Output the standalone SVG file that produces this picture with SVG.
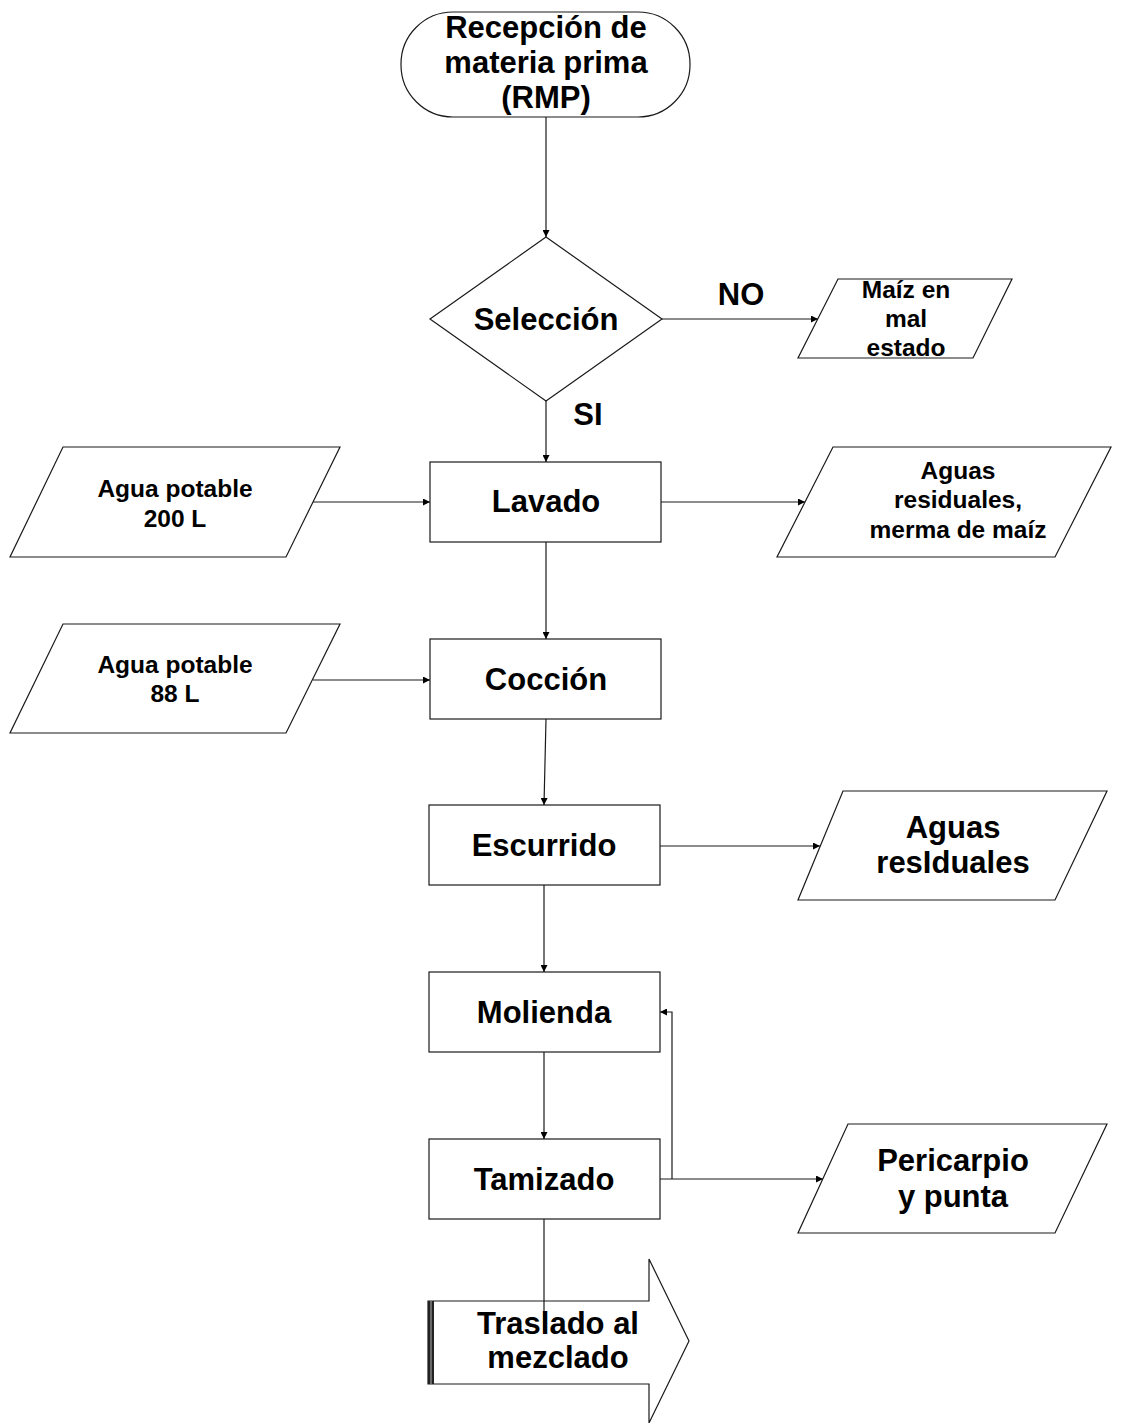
<svg xmlns="http://www.w3.org/2000/svg" width="1139" height="1423" viewBox="0 0 1139 1423">
  <defs>
    <marker id="ah" viewBox="0 0 10 10" refX="10" refY="5" markerWidth="10" markerHeight="7" markerUnits="userSpaceOnUse" orient="auto">
      <path d="M0,0 L10,5 L0,10 z" fill="#000"/>
    </marker>
    <style>
      .shape { fill: #fff; stroke: #1a1a1a; stroke-width: 1.2; }
      .edge { fill: none; stroke: #1a1a1a; stroke-width: 1.2; }
      .t { font-family: "Liberation Sans", Arial, sans-serif; font-weight: bold; fill: #000; text-anchor: middle; }
      .lg { font-size: 31px; }
      .sm { font-size: 24.5px; }
    </style>
  </defs>
  <rect width="1139" height="1423" fill="#fff"/>

  <!-- connectors -->
  <g id="connectors">
    <line class="edge" x1="546" y1="117" x2="546" y2="237" marker-end="url(#ah)"/>
    <line class="edge" x1="662" y1="319" x2="818" y2="319" marker-end="url(#ah)"/>
    <line class="edge" x1="546" y1="401" x2="546" y2="462" marker-end="url(#ah)"/>
    <line class="edge" x1="313" y1="502" x2="430" y2="502" marker-end="url(#ah)"/>
    <line class="edge" x1="661" y1="502" x2="805" y2="502" marker-end="url(#ah)"/>
    <line class="edge" x1="546" y1="542" x2="546" y2="639" marker-end="url(#ah)"/>
    <line class="edge" x1="313" y1="680" x2="430" y2="680" marker-end="url(#ah)"/>
    <line class="edge" x1="546" y1="719" x2="544" y2="805" marker-end="url(#ah)"/>
    <line class="edge" x1="660" y1="846" x2="820" y2="846" marker-end="url(#ah)"/>
    <line class="edge" x1="544" y1="885" x2="544" y2="972" marker-end="url(#ah)"/>
    <line class="edge" x1="544" y1="1052" x2="544" y2="1139" marker-end="url(#ah)"/>
    <line class="edge" x1="660" y1="1179" x2="823" y2="1179" marker-end="url(#ah)"/>
    <polyline class="edge" points="672,1179 672,1012 660,1012" marker-end="url(#ah)"/>
  </g>

  <g id="n-recepcion">
    <rect class="shape" x="401" y="12" width="289" height="105" rx="52" ry="52"/>
    <text class="t lg" x="546" y="38">Recepción de</text>
    <text class="t lg" x="546" y="73">materia prima</text>
    <text class="t lg" x="546" y="108">(RMP)</text>
  </g>

  <g id="n-seleccion">
    <polygon class="shape" points="546,237 662,319 546,401 430,319"/>
    <text class="t lg" x="546" y="330">Selección</text>
  </g>
  <g id="lbl-no"><text class="t lg" x="741" y="305">NO</text></g>
  <g id="lbl-si"><text class="t lg" x="588" y="425">SI</text></g>

  <g id="n-maiz">
    <polygon class="shape" points="838,279 1012,279 973,358 798,358"/>
    <text class="t sm" x="906" y="298">Maíz en</text>
    <text class="t sm" x="906" y="327">mal</text>
    <text class="t sm" x="906" y="356">estado</text>
  </g>

  <g id="n-agua200">
    <polygon class="shape" points="63,447 340,447 286,557 10,557"/>
    <text class="t sm" x="175" y="497">Agua potable</text>
    <text class="t sm" x="175" y="527">200 L</text>
  </g>

  <g id="n-lavado">
    <rect class="shape" x="430" y="462" width="231" height="80"/>
    <text class="t lg" x="546" y="512">Lavado</text>
  </g>

  <g id="n-aguasmerma">
    <polygon class="shape" points="833,447 1111,447 1055,557 777,557"/>
    <text class="t sm" x="958" y="479">Aguas</text>
    <text class="t sm" x="958" y="508">residuales,</text>
    <text class="t sm" x="958" y="538">merma de maíz</text>
  </g>

  <g id="n-agua88">
    <polygon class="shape" points="63,624 340,624 286,733 10,733"/>
    <text class="t sm" x="175" y="673">Agua potable</text>
    <text class="t sm" x="175" y="702">88 L</text>
  </g>

  <g id="n-coccion">
    <rect class="shape" x="430" y="639" width="231" height="80"/>
    <text class="t lg" x="546" y="690">Cocción</text>
  </g>

  <g id="n-escurrido">
    <rect class="shape" x="429" y="805" width="231" height="80"/>
    <text class="t lg" x="544" y="856">Escurrido</text>
  </g>

  <g id="n-aguasres">
    <polygon class="shape" points="843,791 1107,791 1055,900 798,900"/>
    <text class="t lg" x="953" y="838">Aguas</text>
    <text class="t lg" x="953" y="873">resIduales</text>
  </g>

  <g id="n-molienda">
    <rect class="shape" x="429" y="972" width="231" height="80"/>
    <text class="t lg" x="544" y="1023">Molienda</text>
  </g>

  <g id="n-tamizado">
    <rect class="shape" x="429" y="1139" width="231" height="80"/>
    <text class="t lg" x="544" y="1190">Tamizado</text>
  </g>

  <g id="n-pericarpio">
    <polygon class="shape" points="848,1124 1107,1124 1055,1233 798,1233"/>
    <text class="t lg" x="953" y="1171">Pericarpio</text>
    <text class="t lg" x="953" y="1207">y punta</text>
  </g>

  <g id="n-traslado">
    <polygon class="shape" points="428,1301 649,1301 649,1259 689,1341 649,1423 649,1384 428,1384"/>
    <rect x="428" y="1301" width="6" height="83" fill="#222"/>
    <line x1="431" y1="1301" x2="431" y2="1384" stroke="#999" stroke-width="1.2"/>
    <line class="edge" x1="544" y1="1219" x2="544" y2="1330"/>
    <text class="t lg" x="558" y="1334">Traslado al</text>
    <text class="t lg" x="558" y="1368">mezclado</text>
  </g>
</svg>
